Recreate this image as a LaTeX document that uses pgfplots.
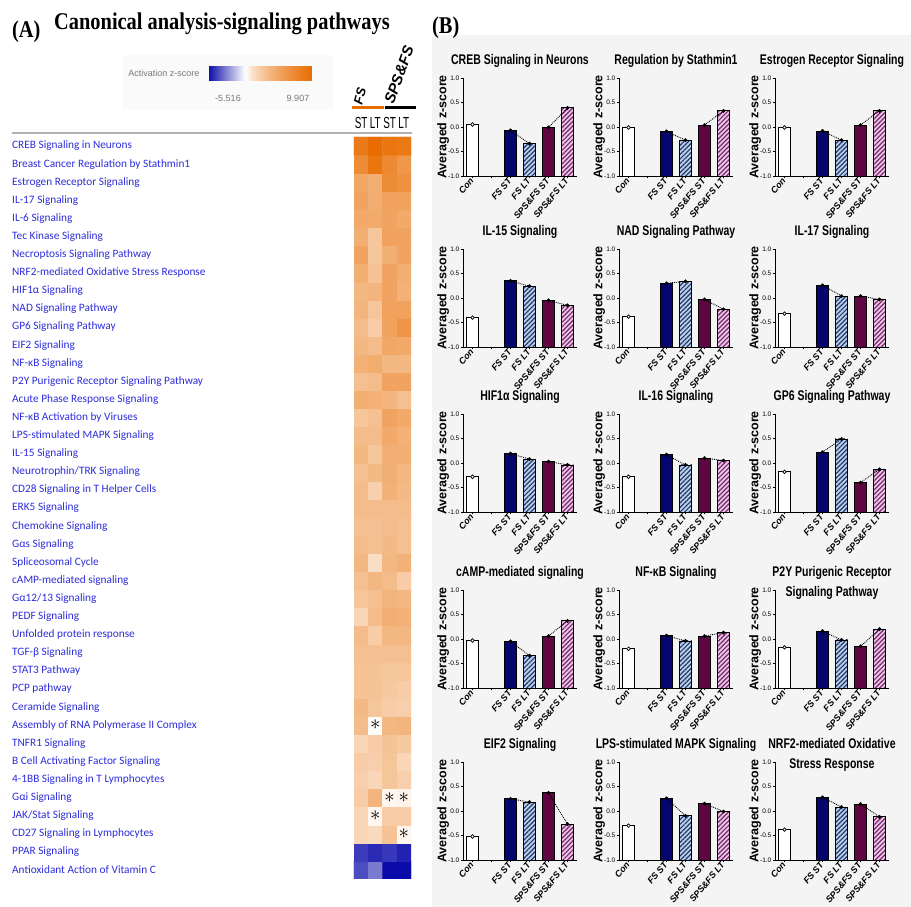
\documentclass[border=0pt]{standalone}
\usepackage{pgfplots}
\pgfplotsset{compat=1.18}
\usetikzlibrary{patterns.meta}
\usepackage{fontspec}
\setmainfont{Liberation Sans}
\newfontfamily\lab{Carlito}
\newfontfamily\arial{Liberation Sans}
\newfontfamily\narrow[FakeStretch=0.75]{Liberation Sans}
\newfontfamily\cond[FakeStretch=0.62]{Liberation Sans}
\newfontfamily\timesn[FakeStretch=0.85]{Liberation Serif}

\definecolor{labblue}{RGB}{45,45,220}
\definecolor{navy}{RGB}{5,5,110}
\definecolor{ltblue}{RGB}{185,210,235}
\definecolor{hatchblue}{RGB}{40,55,105}
\definecolor{maroon}{RGB}{95,5,65}
\definecolor{ltpink}{RGB}{235,200,235}
\definecolor{hatchpink}{RGB}{120,40,100}
\definecolor{hdrorange}{RGB}{232,108,0}
\definecolor{legendgray}{RGB}{120,120,120}
\definecolor{panelbg}{RGB}{244,244,244}

\pgfplotsset{
  panel/.style={
    scale only axis, width=114pt, height=98pt,
    xmin=-0.5, xmax=5.5, ymin=0, ymax=2,
    y filter/.expression={y+1},
    axis lines=left, axis line style={-, line width=0.8pt},
    tick align=outside, major tick length=2.5pt,
    tick style={line width=0.7pt, black},
    xtick={0,1,2,3,4,5},
    xticklabels={Con,,FS ST,FS LT,SPS\&FS ST,SPS\&FS LT},
    ytick={0,0.5,1,1.5,2},
    yticklabels={-1.0,-0.5,0.0,0.5,1.0},
    xticklabel style={font=\arial\bfseries\itshape\fontsize{9}{10}\selectfont, rotate=50, anchor=east, inner sep=1pt},
    yticklabel style={font=\arial\fontsize{6.5}{7}\selectfont, inner sep=1pt},
    ylabel={Averaged z-score},
    every axis y label/.style={at={(axis description cs:-0.175,0.5)}, rotate=90, anchor=center, font=\arial\bfseries\fontsize{12.5}{14}\selectfont},
    every axis title/.style={at={(axis description cs:0.5,1)}, anchor=north, yshift=24pt, inner sep=0pt, align=center, font=\narrow\bfseries\fontsize{14}{20}\selectfont},
    clip=false,
  },
  barstyle/.style={ybar, bar width=12.7pt, bar shift=0pt, draw=black, line width=0.8pt, mark=none},
}

\newcommand{\panel}[8]{%
\begin{axis}[panel, at={(#1pt,#2pt)}, anchor=south west, title={#3}]
\addplot[barstyle, fill=white] coordinates {(0,#4)};
\addplot[barstyle, fill=navy] coordinates {(2,#5)};
\addplot[barstyle, fill=ltblue, postaction={pattern={Lines[angle=45,distance=3.2pt,line width=1.2pt]}, pattern color=hatchblue}] coordinates {(3,#6)};
\addplot[barstyle, fill=maroon] coordinates {(4,#7)};
\addplot[barstyle, fill=ltpink, postaction={pattern={Lines[angle=45,distance=3.2pt,line width=1.2pt]}, pattern color=hatchpink}] coordinates {(5,#8)};
\addplot[black, densely dotted, line width=0.9pt, mark=none] coordinates {(2,#5) (3,#6)};
\addplot[black, densely dotted, line width=0.9pt, mark=none] coordinates {(4,#7) (5,#8)};
\addplot[only marks, mark=*, mark size=1.7pt, black] coordinates {(2,#5) (3,#6) (4,#7) (5,#8)};
\addplot[only marks, mark=*, mark size=1.8pt, black, mark options={fill=white, line width=0.7pt}] coordinates {(0,#4)};
\end{axis}}

\begin{document}
\begin{tikzpicture}[x=1pt,y=1pt]
\useasboundingbox (0,0) rectangle (911,907);
\fill[white] (0,0) rectangle (911,907);
\fill[panelbg] (432,0) rectangle (911,872);

% ---------- Panel A ----------
\node[anchor=base west, inner sep=0pt, font=\timesn\bfseries\fontsize{24}{24}\selectfont] at (12,869) {(A)};
\node[anchor=base west, inner sep=0pt, font=\timesn\bfseries\fontsize{24}{24}\selectfont] at (54,877) {Canonical analysis-signaling pathways};
\fill[gray!4] (123,797) rectangle (333,852);
\node[font=\arial\fontsize{9}{10}\selectfont, text=legendgray] at (164,834) {Activation z-score};
\node[font=\arial\fontsize{9}{10}\selectfont, text=legendgray] at (228,809) {-5.516};
\node[font=\arial\fontsize{9}{10}\selectfont, text=legendgray] at (298,809) {9.907};
\draw[hdrorange, line width=3pt] (352,799) -- (383.5,799);
\draw[black, line width=3pt] (384.5,799) -- (416,799);
\node[rotate=75, font=\arial\bfseries\itshape\fontsize{13}{13}\selectfont, inner sep=0pt] at (360,811) {FS};
\node[rotate=70, font=\arial\bfseries\itshape\fontsize{15}{15}\selectfont, inner sep=0pt] at (399,832) {SPS\&FS};
\draw[gray!60, line width=1.2pt] (12,774) -- (412,774);

\begin{axis}[
  at={(354pt,28pt)}, anchor=south west,
  scale only axis, width=57pt, height=742pt,
  xmin=-0.5, xmax=3.5, ymin=0.5, ymax=41.5,
  axis line style={draw=none}, major tick length=0pt, tick style={draw=none},
  xtick={0,1,2,3}, xticklabels={ST,LT,ST,LT}, xticklabel pos=upper,
  xticklabel style={font=\cond\fontsize{16}{16}\selectfont, inner sep=0pt, yshift=8pt},
  ytick={1,...,41},
  yticklabels={
    {Antioxidant Action of Vitamin C},
    {PPAR Signaling},
    {CD27 Signaling in Lymphocytes},
    {JAK/Stat Signaling},
    {Gαi Signaling},
    {4-1BB Signaling in T Lymphocytes},
    {B Cell Activating Factor Signaling},
    {TNFR1 Signaling},
    {Assembly of RNA Polymerase II Complex},
    {Ceramide Signaling},
    {PCP pathway},
    {STAT3 Pathway},
    {TGF-β Signaling},
    {Unfolded protein response},
    {PEDF Signaling},
    {Gα12/13 Signaling},
    {cAMP-mediated signaling},
    {Spliceosomal Cycle},
    {Gαs Signaling},
    {Chemokine Signaling},
    {ERK5 Signaling},
    {CD28 Signaling in T Helper Cells},
    {Neurotrophin/TRK Signaling},
    {IL-15 Signaling},
    {LPS-stimulated MAPK Signaling},
    {NF-κB Activation by Viruses},
    {Acute Phase Response Signaling},
    {P2Y Purigenic Receptor Signaling Pathway},
    {NF-κB Signaling},
    {EIF2 Signaling},
    {GP6 Signaling Pathway},
    {NAD Signaling Pathway},
    {HIF1α Signaling},
    {NRF2-mediated Oxidative Stress Response},
    {Necroptosis Signaling Pathway},
    {Tec Kinase Signaling},
    {IL-6 Signaling},
    {IL-17 Signaling},
    {Estrogen Receptor Signaling},
    {Breast Cancer Regulation by Stathmin1},
    {CREB Signaling in Neurons}},
  yticklabel style={font=\lab\fontsize{11.3}{12}\selectfont, text=labblue, anchor=west, inner sep=0pt, xshift=-342pt},
  colormap={heat}{rgb255=(10,10,170) rgb255=(59,59,187) rgb255=(108,108,204) rgb255=(157,157,221) rgb255=(206,206,238) rgb255=(255,255,255) rgb255=(250,223,200) rgb255=(247,204,166) rgb255=(244,187,137) rgb255=(242,172,110) rgb255=(240,158,86) rgb255=(238,144,63) rgb255=(236,132,41) rgb255=(234,120,20) rgb255=(232,108,0)},
  point meta min=-5.516, point meta max=9.907,
  colorbar horizontal,
  colorbar style={at={(parent axis.north west)}, anchor=south west, xshift=-146pt, yshift=65pt,
    scale only axis, width=104pt, height=20pt, xtick=\empty, ytick=\empty, axis line style={draw=none}},
]
\addplot[matrix plot*, mesh/cols=4, point meta=explicit] table[meta=z] {
x y z
0 1 -4.0
1 1 -3.0
2 1 -5.5
3 1 -5.5
0 2 -4.4
1 2 -4.8
2 2 -4.5
3 2 -5.0
0 3 1.6
1 3 1.4
2 3 2.8
3 3 0.3
0 4 1.6
1 4 0.3
2 4 2.2
3 4 2.2
0 5 2.2
1 5 3.8
2 5 0.3
3 5 0.4
0 6 2.0
1 6 1.6
2 6 2.6
3 6 2.0
0 7 2.2
1 7 2.0
2 7 2.6
3 7 1.6
0 8 1.6
1 8 2.2
2 8 2.8
3 8 2.4
0 9 3.2
1 9 0.1
2 9 3.6
3 9 3.8
0 10 3.4
1 10 2.6
2 10 2.2
3 10 2.0
0 11 2.8
1 11 2.8
2 11 2.4
3 11 2.2
0 12 2.8
1 12 2.8
2 12 2.6
3 12 2.6
0 13 3.0
1 13 3.0
2 13 3.0
3 13 3.0
0 14 3.2
1 14 2.2
2 14 3.6
3 14 3.6
0 15 1.6
1 15 3.2
2 15 4.2
3 15 4.0
0 16 2.6
1 16 3.0
2 16 3.8
3 16 3.6
0 17 3.0
1 17 3.6
2 17 3.2
3 17 2.2
0 18 3.6
1 18 1.2
2 18 3.6
3 18 4.0
0 19 3.2
1 19 3.0
2 19 3.4
3 19 3.0
0 20 3.0
1 20 3.0
2 20 3.2
3 20 3.0
0 21 3.2
1 21 3.2
2 21 3.2
3 21 3.2
0 22 3.2
1 22 2.0
2 22 4.0
3 22 3.4
0 23 3.0
1 23 3.4
2 23 4.2
3 23 3.6
0 24 3.6
1 24 2.6
2 24 4.2
3 24 4.2
0 25 3.2
1 25 3.2
2 25 4.6
3 25 4.0
0 26 2.6
1 26 3.0
2 26 5.0
3 26 4.6
0 27 4.2
1 27 4.0
2 27 3.8
3 27 3.0
0 28 3.0
1 28 3.2
2 28 5.0
3 28 5.0
0 29 4.0
1 29 4.4
2 29 3.6
3 29 3.6
0 30 3.6
1 30 3.2
2 30 4.8
3 30 4.6
0 31 3.2
1 31 2.2
2 31 5.2
3 31 6.2
0 32 3.8
1 32 2.6
2 32 5.2
3 32 5.2
0 33 3.6
1 33 3.8
2 33 5.0
3 33 4.0
0 34 4.2
1 34 2.8
2 34 5.0
3 34 4.2
0 35 5.0
1 35 2.6
2 35 4.2
3 35 5.0
0 36 4.2
1 36 2.6
2 36 5.2
3 36 5.0
0 37 4.6
1 37 4.5
2 37 5.0
3 37 4.6
0 38 5.0
1 38 4.3
2 38 5.2
3 38 5.2
0 39 4.8
1 39 4.2
2 39 7.0
3 39 6.5
0 40 7.0
1 40 9.0
2 40 7.2
3 40 6.0
0 41 8.5
1 41 9.9
2 41 9.0
3 41 8.7
};
\node[font=\fontsize{20}{20}\selectfont, inner sep=0pt] at (axis cs:1,9) {$\ast$};
\node[font=\fontsize{20}{20}\selectfont, inner sep=0pt] at (axis cs:2,5) {$\ast$};
\node[font=\fontsize{20}{20}\selectfont, inner sep=0pt] at (axis cs:3,5) {$\ast$};
\node[font=\fontsize{20}{20}\selectfont, inner sep=0pt] at (axis cs:1,4) {$\ast$};
\node[font=\fontsize{20}{20}\selectfont, inner sep=0pt] at (axis cs:3,3) {$\ast$};
\end{axis}

% ---------- Panel B ----------
\node[anchor=base west, inner sep=0pt, font=\timesn\bfseries\fontsize{24}{24}\selectfont] at (432,873) {(B)};

\panel{463}{731}{CREB Signaling in Neurons}{0.05}{-0.07}{-0.34}{-0.01}{0.39}
\panel{619}{731}{Regulation by Stathmin1}{-0.01}{-0.09}{-0.27}{0.04}{0.33}
\panel{775}{731}{Estrogen Receptor Signaling}{-0.01}{-0.08}{-0.27}{0.04}{0.33}

\panel{463}{560}{IL-15 Signaling}{-0.40}{0.35}{0.24}{-0.05}{-0.15}
\panel{619}{560}{NAD Signaling Pathway}{-0.38}{0.30}{0.34}{-0.03}{-0.23}
\panel{775}{560}{IL-17 Signaling}{-0.32}{0.26}{0.04}{0.04}{-0.03}

\panel{463}{395}{HIF1α Signaling}{-0.28}{0.19}{0.08}{0.03}{-0.04}
\panel{619}{395}{IL-16 Signaling}{-0.28}{0.17}{-0.04}{0.10}{0.05}
\panel{775}{395}{GP6 Signaling Pathway}{-0.18}{0.22}{0.49}{-0.40}{-0.13}

\panel{463}{219}{cAMP-mediated signaling}{-0.03}{-0.05}{-0.34}{0.06}{0.37}
\panel{619}{219}{NF-κB Signaling}{-0.20}{0.07}{-0.04}{0.06}{0.13}
\panel{775}{219}{P2Y Purigenic Receptor\\Signaling Pathway}{-0.17}{0.16}{-0.02}{-0.15}{0.20}

\panel{463}{47}{EIF2 Signaling}{-0.52}{0.25}{0.18}{0.37}{-0.27}
\panel{619}{47}{LPS-stimulated MAPK Signaling}{-0.30}{0.26}{-0.10}{0.15}{-0.01}
\panel{775}{47}{NRF2-mediated Oxidative\\Stress Response}{-0.38}{0.28}{0.08}{0.14}{-0.12}
\end{tikzpicture}
\end{document}
